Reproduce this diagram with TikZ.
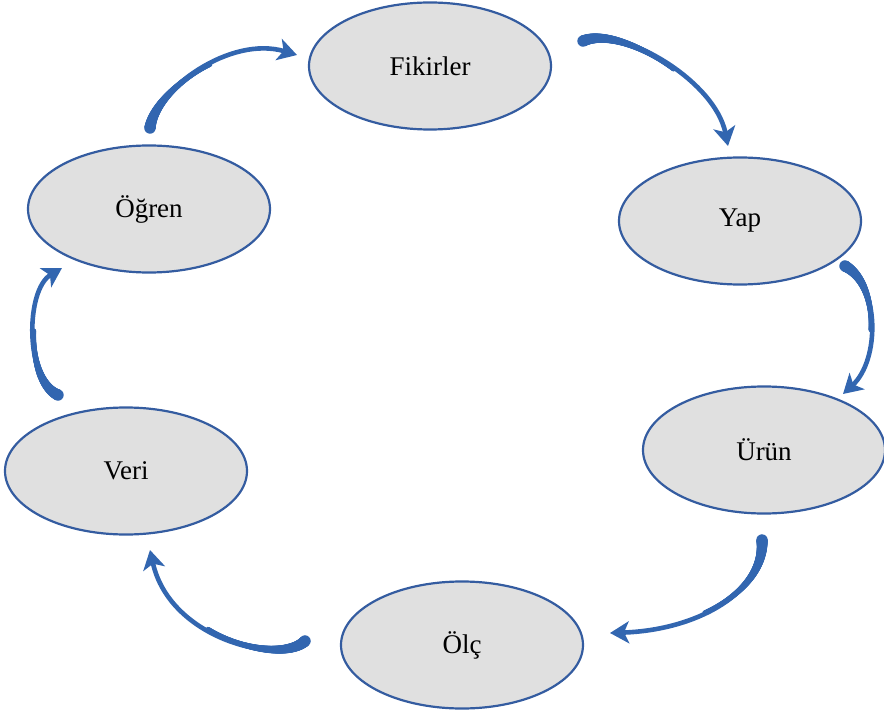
\documentclass[tikz,border=0pt]{standalone}
\usepackage{fontspec}
\setmainfont{Liberation Serif}
\usetikzlibrary{shapes.geometric,arrows.meta,decorations.markings}
\definecolor{arrowblue}{RGB}{50,102,176}
\definecolor{edgeblue}{RGB}{52,92,160}
\definecolor{nodefill}{RGB}{224,224,224}
\tikzset{
  stage/.style={ellipse, draw=edgeblue, line width=2.2pt, fill=nodefill,
    minimum width=242pt, minimum height=127pt, inner sep=0pt,
    font=\fontsize{27}{31}\selectfont},
  flow/.style={draw=arrowblue, line width=4.6pt,
    -{Stealth[length=19pt,width=22pt,inset=5pt]},
    postaction={decorate},
    decoration={markings,
      mark=between positions 0 and 0.5 step 0.4pt with {%
        \pgfmathsetmacro\rr{2.3+3.4*(1-\pgfkeysvalueof{/pgf/decoration/mark info/distance from start}/(0.5*\pgfdecoratedpathlength))^2}%
        \fill[arrowblue] (0,0) circle (\rr pt);}}}
}
\begin{document}
\begin{tikzpicture}[x=1pt,y=-1pt]
\useasboundingbox (0,0) rectangle (884,714);
\node[stage] (fik) at (430,66) {Fikirler};
\node[stage] (yap) at (740,221) {Yap};
\node[stage] (urun) at (764,450) {Ürün};
\node[stage] (olc) at (462,645) {Ölç};
\node[stage] (veri) at (126,471) {Veri};
\node[stage] (ogren) at (149,209) {Öğren};
% arrow end points
\coordinate (a1s) at (583,41);  \coordinate (a1e) at (728,146);
\coordinate (a2s) at (845,266); \coordinate (a2e) at (843,394);
\coordinate (a3s) at (762,540); \coordinate (a3e) at (610,633);
\coordinate (a4s) at (305,641); \coordinate (a4e) at (150,550);
\coordinate (a5s) at (58,395);  \coordinate (a5e) at (62,268);
\coordinate (a6s) at (150,128); \coordinate (a6e) at (297,55);
\draw[flow] (a1s) .. controls (620,25) and (715,80) .. (a1e);
\draw[flow] (a2s) .. controls (880,285) and (880,360) .. (a2e);
\draw[flow] (a3s) .. controls (765,590) and (700,630) .. (a3e);
\draw[flow] (a4s) .. controls (280,665) and (170,640) .. (a4e);
\draw[flow] (a5s) .. controls (25,380) and (25,290) .. (a5e);
\draw[flow] (a6s) .. controls (155,90) and (230,35) .. (a6e);
\end{tikzpicture}
\end{document}
